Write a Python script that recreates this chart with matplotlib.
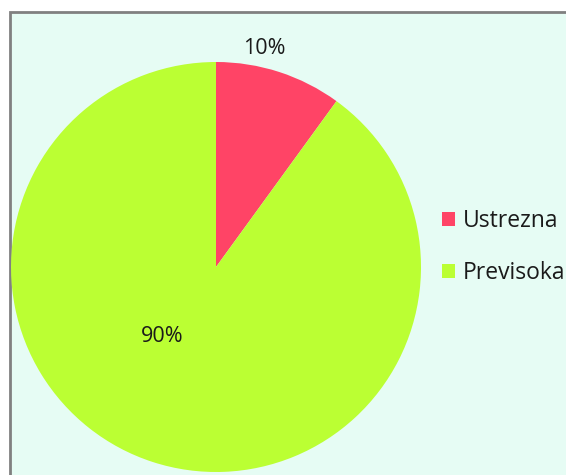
import matplotlib.pyplot as plt
from matplotlib.patches import Rectangle

# data
categories = ['Ustrezna', 'Previsoka']
shares = [10, 90]
colors = ['#FF4466', '#BBFF33']

plt.rcParams['font.family'] = ['Open Sans', 'DejaVu Sans']

fig = plt.figure(figsize=(5.66, 4.75), dpi=100, facecolor='white')
W, H = 566, 475

# chart area background with grey frame (left/top visible, rest cropped)
fig.patches.append(Rectangle((10 / W, -0.1), 1.2, 1 - 12 / H + 0.1,
                             transform=fig.transFigure, facecolor='#E6FCF4',
                             edgecolor='#808080', linewidth=2, zorder=-5))

# pie centred at (216, 267) px, radius 205 px
cx, cy, r = 216, 267, 205
ax = fig.add_axes([(cx - r) / W, (H - cy - r) / H, 2 * r / W, 2 * r / H])
ax.set_facecolor('none')
wedges, texts, autotexts = ax.pie(shares, colors=colors, startangle=90,
                                  counterclock=False, autopct='%d%%',
                                  radius=1, textprops={'fontsize': 15.5, 'color': '#1a1a1a'})
ax.set_xlim(-1, 1)
ax.set_ylim(-1, 1)
ax.set_aspect('auto')

# label positions as placed in the reference
autotexts[0].set_position((48 / r, 219 / r))
autotexts[1].set_position((-54 / r, -69 / r))

fig.legend(wedges, categories, loc='center left',
           bbox_to_anchor=(431 / W, 1 - 247 / H), frameon=False,
           fontsize=16.5, handlelength=0.55, handleheight=0.55,
           handletextpad=0.35, labelspacing=1.2, borderpad=0,
           labelcolor='#1a1a1a')

fig.savefig('out.png', dpi=100, facecolor='white')
